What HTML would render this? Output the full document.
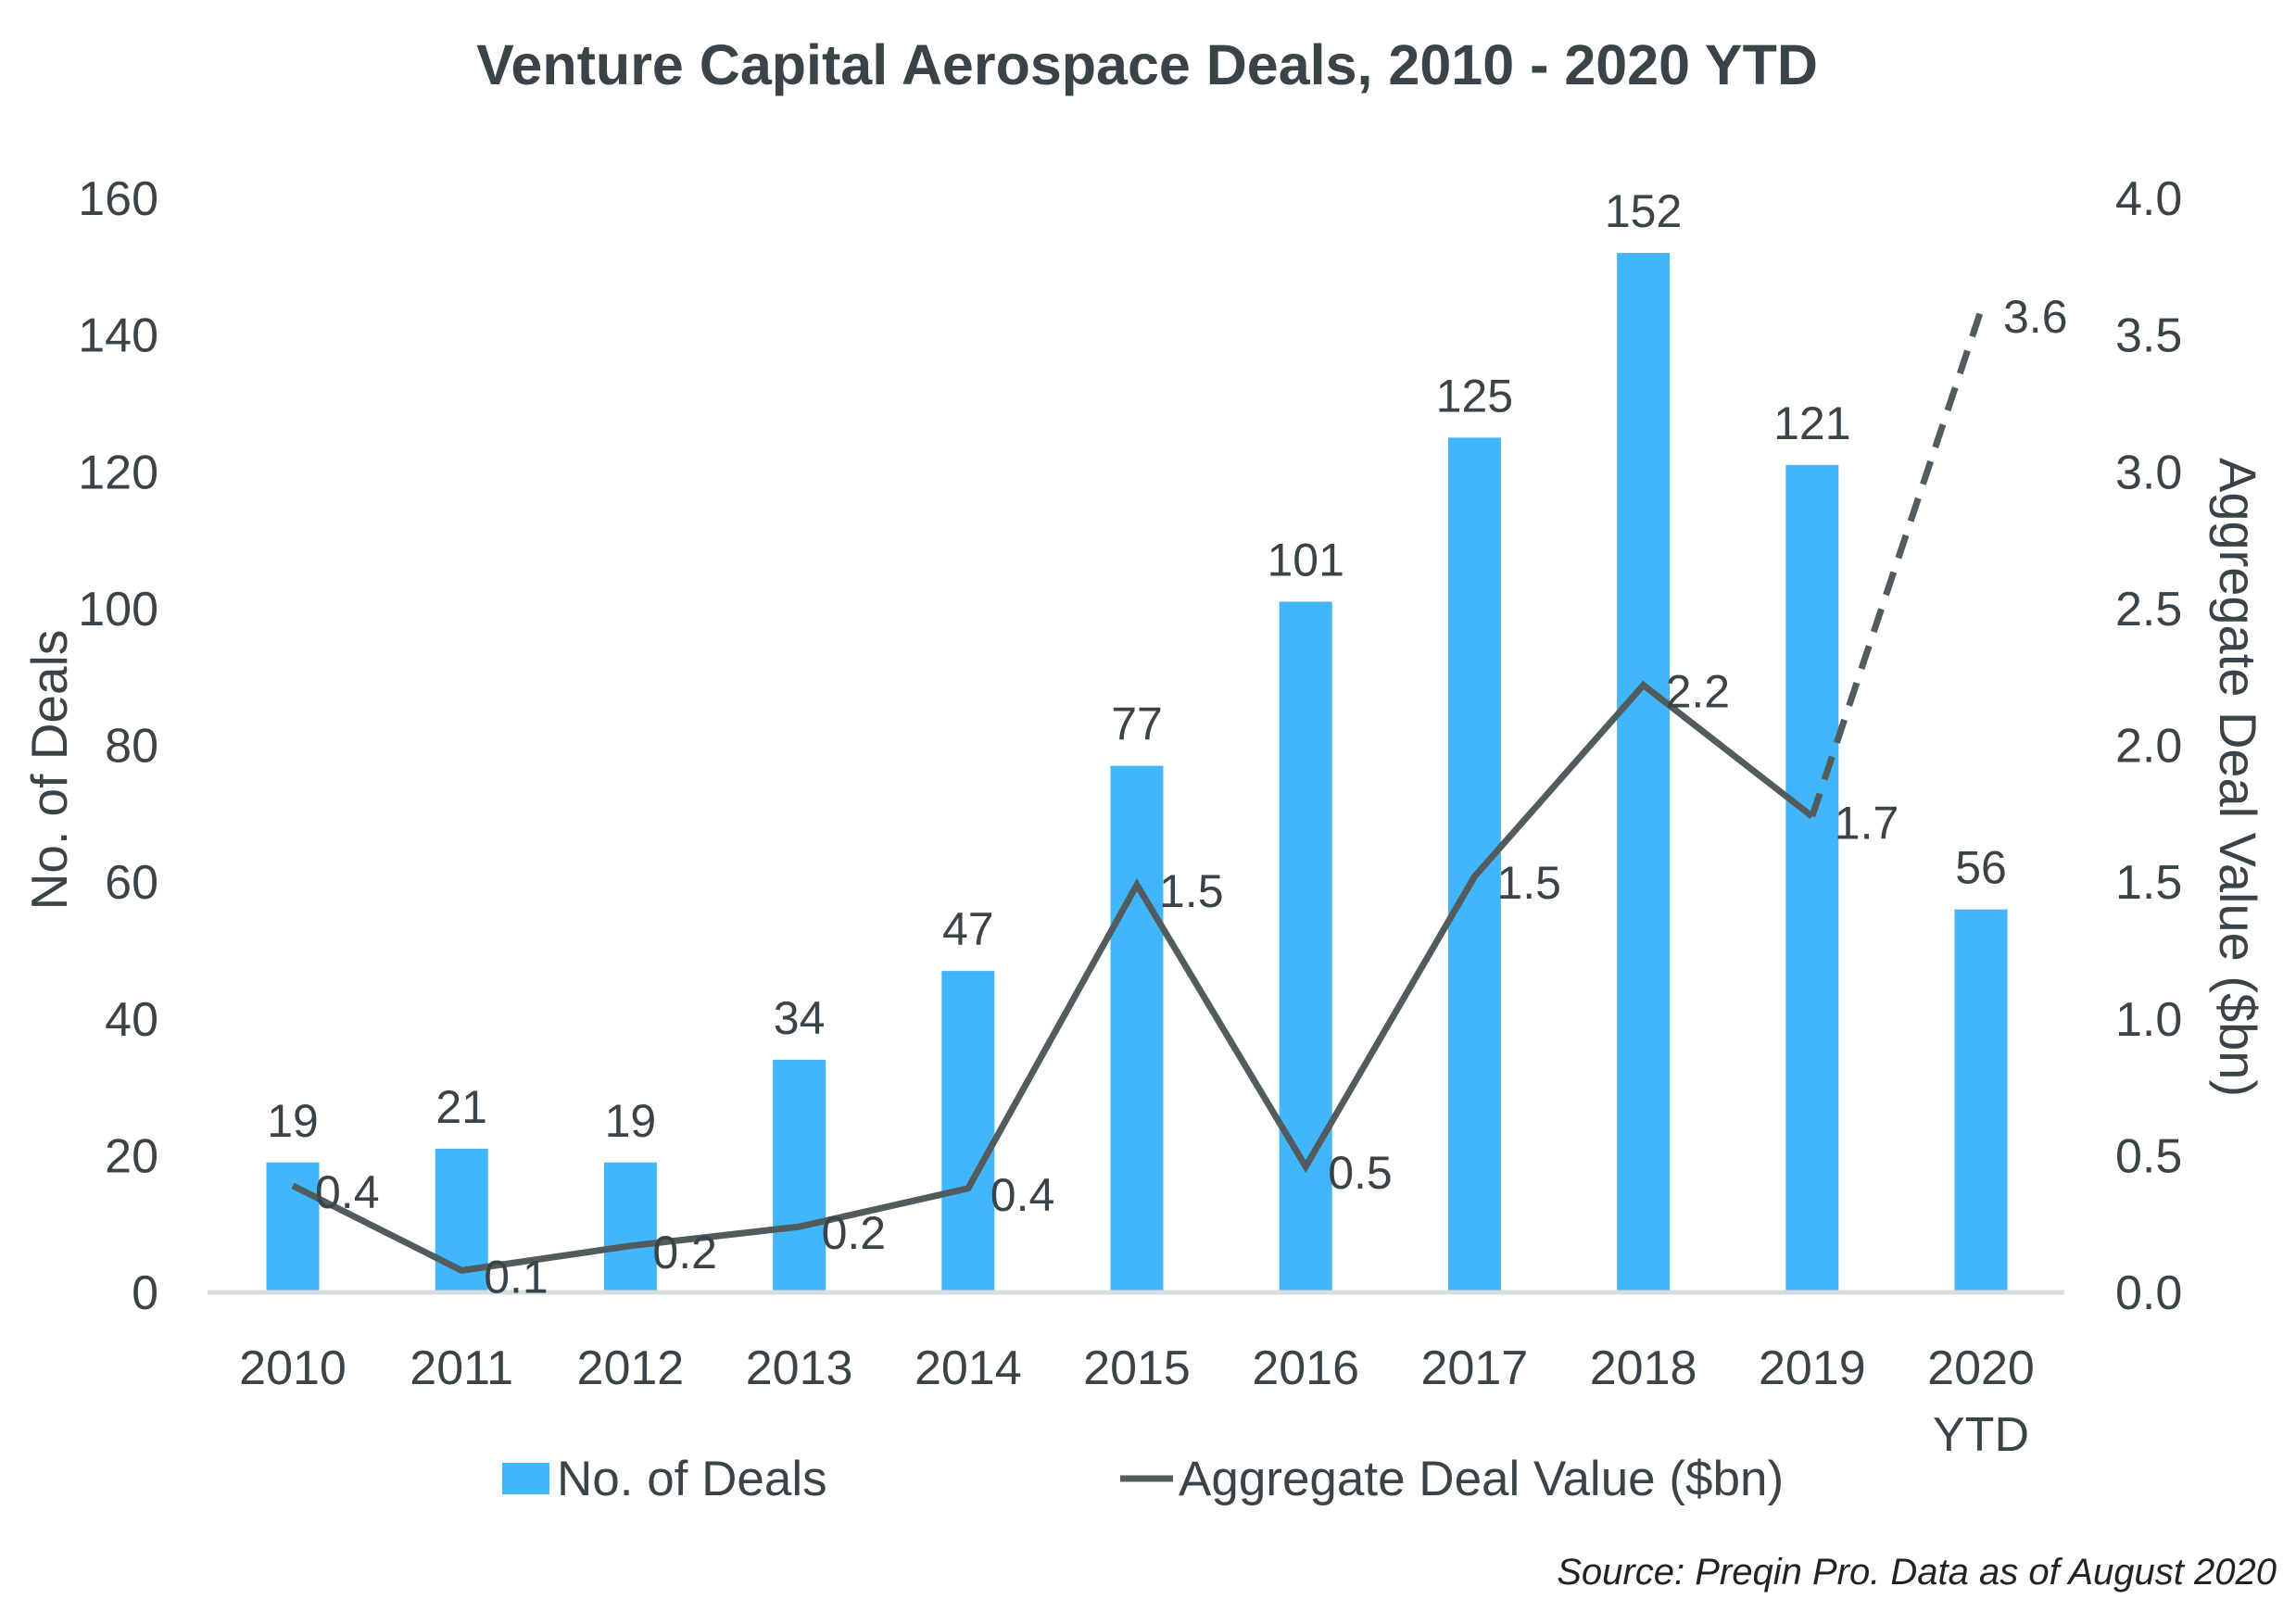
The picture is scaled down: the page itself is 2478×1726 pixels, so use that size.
<!DOCTYPE html>
<html><head><meta charset="utf-8">
<style>
html,body{margin:0;padding:0;background:#fff;}
svg{display:block;font-family:"Liberation Sans",sans-serif;}
</style></head>
<body>
<svg id="chart" width="2478" height="1726" viewBox="0 0 2478 1726" xmlns="http://www.w3.org/2000/svg">
<rect width="2478" height="1726" fill="#fff"/>
<text x="1238" y="91" text-anchor="middle" font-size="61" font-weight="bold" fill="#3a4448">Venture Capital Aerospace Deals, 2010 - 2020 YTD</text>
<g id="left-axis"></g>
<g id="right-axis"></g>
<g id="bars"></g>
<line x1="224" y1="1395" x2="2228" y2="1395" stroke="#d9dcdc" stroke-width="5"/>
<g id="line"></g>
<g id="xlabels"></g>
<text transform="translate(72,831) rotate(-90)" text-anchor="middle" font-size="55" fill="#3a4448">No. of Deals</text>
<text transform="translate(2396,839) rotate(90)" text-anchor="middle" font-size="56" fill="#3a4448">Aggregate Deal Value ($bn)</text>
<g>
<rect x="542" y="1579" width="51" height="34" fill="#41b6fa"/>
<text x="601" y="1614" font-size="53" fill="#3a4448">No. of Deals</text>
<line x1="1209" y1="1596" x2="1266" y2="1596" stroke="#525c5e" stroke-width="7"/>
<text x="1272" y="1614" font-size="53" fill="#3a4448">Aggregate Deal Value ($bn)</text>
</g>
<text x="2457" y="1710" text-anchor="end" font-size="40" font-style="italic" fill="#222">Source: Preqin Pro. Data as of August 2020</text>
</svg>
<script>
const categories = ["2010","2011","2012","2013","2014","2015","2016","2017","2018","2019","2020"];
const dealCounts = [19,21,19,34,47,77,101,125,152,121,56];
const dealValues = [0.39,0.08,0.17,0.24,0.38,1.49,0.46,1.52,2.22,1.74,3.59];
const valueLabels = ["0.4","0.1","0.2","0.2","0.4","1.5","0.5","1.5","2.2","1.7","3.6"];
const leftTicks = [0,20,40,60,80,100,120,140,160];
const rightTicks = ["0.0","0.5","1.0","1.5","2.0","2.5","3.0","3.5","4.0"];

const NS="http://www.w3.org/2000/svg";
const y0=1395, yTop=214;
function yL(v){return y0-(v/160)*(y0-yTop);}
function yR(v){return y0-(v/4)*(y0-yTop);}
function xC(i){return 316+i*182.2;}
function mk(tag,attrs,parent,txt){const e=document.createElementNS(NS,tag);for(const k in attrs)e.setAttribute(k,attrs[k]);if(txt!==undefined)e.textContent=txt;parent.appendChild(e);return e;}
const txtCol="#3a4448";
const la=document.getElementById('left-axis');
leftTicks.forEach(t=>{
  const e=mk('text',{x:171,y:yL(t)+18,'text-anchor':'end','font-size':52,fill:txtCol},la,String(t));
  
  
});
const ra=document.getElementById('right-axis');
rightTicks.forEach(t=>{
  const e=mk('text',{x:2283,y:yR(parseFloat(t))+18,'font-size':52,fill:txtCol},ra,t);
  
  
});
const bg=document.getElementById('bars');
dealCounts.forEach((v,i)=>{
  const r=mk('rect',{x:xC(i)-28.5,y:yL(v),width:57,height:y0-yL(v),fill:'#41b6fa'},bg);
  
  
  const t=mk('text',{x:xC(i),y:yL(v)-28,'text-anchor':'middle','font-size':50,fill:txtCol},bg,String(v));
  
  
});
const lg=document.getElementById('line');
let d='';
for(let i=0;i<10;i++){d+=(i?'L':'M')+xC(i)+','+yR(dealValues[i]);}
const p=mk('path',{d:d,fill:'none',stroke:'#525c5e','stroke-width':7,'stroke-linejoin':'miter'},lg);


const dp=mk('path',{d:'M'+xC(9)+','+yR(dealValues[9])+'L'+xC(10)+','+yR(dealValues[10]),fill:'none',stroke:'#525c5e','stroke-width':7,'stroke-dasharray':'26,16'},lg);


dealValues.forEach((v,i)=>{
  const t=mk('text',{x:xC(i)+24,y:yR(v)+24,'font-size':50,fill:txtCol},lg,valueLabels[i]);
  
  
});
const xg=document.getElementById('xlabels');
categories.forEach((c,i)=>{
  const t=mk('text',{x:xC(i),y:1494,'text-anchor':'middle','font-size':52,fill:txtCol},xg,c);
  
  
});
const ytd=mk('text',{x:xC(10),y:1566,'text-anchor':'middle','font-size':52,fill:txtCol},xg,'YTD');


</script>
</body></html>
